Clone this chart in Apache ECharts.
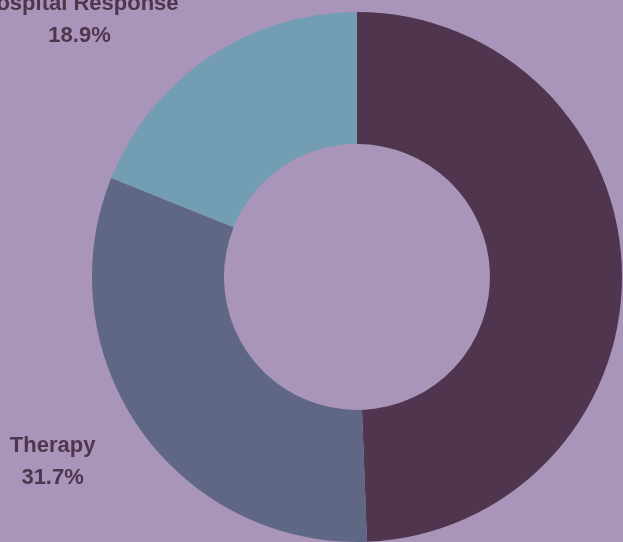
<!DOCTYPE html>
<html><head><meta charset="utf-8">
<script src="https://cdn.jsdelivr.net/npm/echarts@6/dist/echarts.min.js"></script>
<style>html,body{margin:0;padding:0;background:#a995b9;}#c{width:623px;height:542px;}</style>
</head><body><div id="c"></div>
<script>
const categories = ["Police Response", "Therapy", "Hospital Response"];
const values = [49.4, 31.7, 18.9];
const colors = ["#4f354d", "#5f6784", "#739db2"];
const lineLengths = [53, 56, 45];
const lineLengths2 = [0, -6, 0];

const chart = echarts.init(document.getElementById('c'));
chart.setOption({
  backgroundColor: '#a995b9',
  animation: false,
  series: [{
    type: 'pie',
    center: [357, 277],
    radius: [133, 265],
    startAngle: 90,
    clockwise: true,
    avoidLabelOverlap: false,
    data: categories.map((c, i) => ({
      name: c, value: values[i], itemStyle: { color: colors[i] },
      labelLine: { show: false, length: lineLengths[i], length2: lineLengths2[i] }
    })),
    label: {
      show: true,
      position: 'outside',
      formatter: p => '{a|' + p.name + '}\n{a|' + p.percent.toFixed(1) + '%}',
      overflow: 'none',
      rich: { a: { fontFamily: 'Liberation Sans', fontWeight: 'bold', fontSize: 22, lineHeight: 32, color: '#4f354d', align: 'center' } }
    },
    labelLine: { show: false, length: 53, length2: 0 }
  }]
});
</script></body></html>
